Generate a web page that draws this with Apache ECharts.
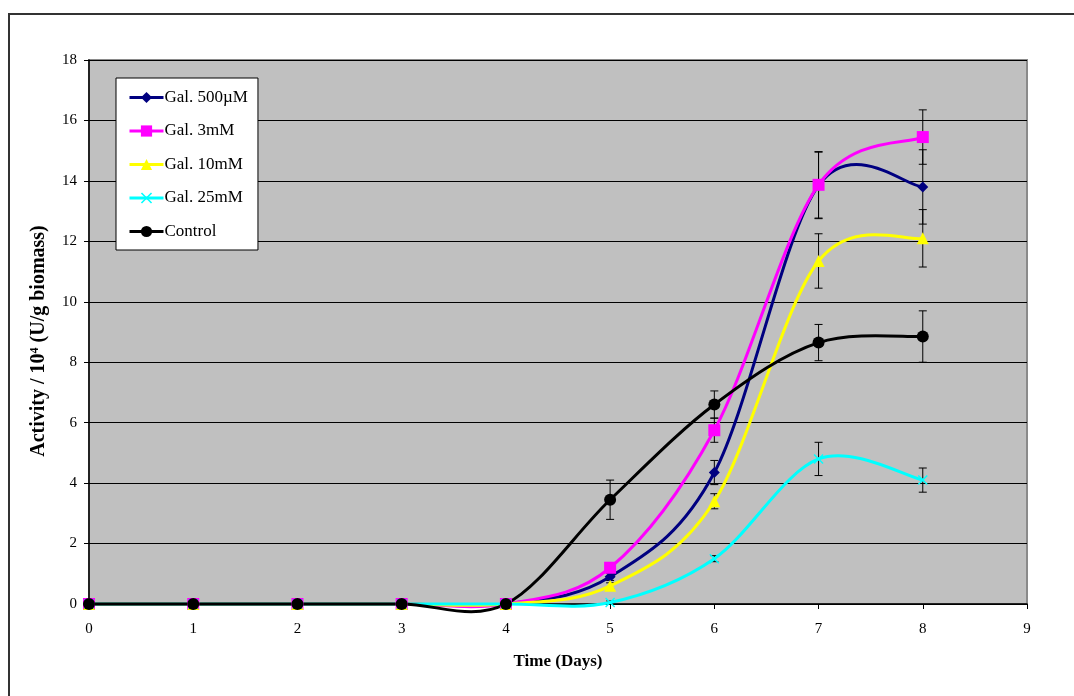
<!DOCTYPE html>
<html>
<head>
<meta charset="utf-8">
<script src="https://cdn.jsdelivr.net/npm/echarts@6/dist/echarts.min.js"></script>
<style>
html,body{margin:0;padding:0;background:#fff;}
#chart{width:1074px;height:696px;}
</style>
</head>
<body>
<div id="chart"></div>
<script>
// ---- data ----
const days = [0, 1, 2, 3, 4, 5, 6, 7, 8];
const seriesNames = ['Gal. 500µM', 'Gal. 3mM', 'Gal. 10mM', 'Gal. 25mM', 'Control'];
const gal500uM = [0, 0, 0, 0, 0, 0.9, 4.35, 13.85, 13.8];
const gal3mM   = [0, 0, 0, 0, 0, 1.2, 5.75, 13.87, 15.45];
const gal10mM  = [0, 0, 0, 0, 0, 0.6, 3.4, 11.35, 12.1];
const gal25mM  = [0, 0, 0, 0, 0, 0.05, 1.5, 4.8, 4.1];
const control  = [0, 0, 0, 0, 0, 3.45, 6.6, 8.65, 8.85];
const err500uM = [0, 0, 0, 0, 0, 0.12, 0.4, 1.1, 1.23];
const err3mM   = [0, 0, 0, 0, 0, 0.15, 0.4, 1.1, 0.9];
const err10mM  = [0, 0, 0, 0, 0, 0.1, 0.25, 0.9, 0.95];
const err25mM  = [0, 0, 0, 0, 0, 0.05, 0.1, 0.55, 0.4];
const errCtrl  = [0, 0, 0, 0, 0, 0.65, 0.45, 0.6, 0.85];
const xTicks = [0, 1, 2, 3, 4, 5, 6, 7, 8, 9];
const yTicks = [0, 2, 4, 6, 8, 10, 12, 14, 16, 18];

const values = [gal500uM, gal3mM, gal10mM, gal25mM, control];
const errors = [err500uM, err3mM, err10mM, err25mM, errCtrl];
const colors = ['#000080', '#ff00ff', '#ffff00', '#00ffff', '#000000'];
const symbols = [
  'diamond', 'rect', 'triangle',
  'path://M1,0 L5,4 L9,0 L10,1 L6,5 L10,9 L9,10 L5,6 L1,10 L0,9 L4,5 L0,1Z',
  'circle'
];
const symbolSizes = [11, 12, 12, 10, 12];
const serif = '"Liberation Serif", "Times New Roman", serif';

const series = [];
// error bars (drawn below lines)
values.forEach((vals, i) => {
  series.push({
    type: 'custom',
    name: seriesNames[i] + ' err',
    z: 1,
    silent: true,
    data: days.map((d, k) => [d, vals[k], errors[i][k]]).filter(r => r[2] > 0),
    renderItem: function (params, api) {
      const x = api.value(0), y = api.value(1), e = api.value(2);
      const top = api.coord([x, y + e]);
      const bot = api.coord([x, y - e]);
      const cap = 4;
      const st = { stroke: '#000', lineWidth: 1 };
      return {
        type: 'group',
        children: [
          { type: 'line', shape: { x1: top[0], y1: top[1], x2: bot[0], y2: bot[1] }, style: st },
          { type: 'line', shape: { x1: top[0] - cap, y1: top[1], x2: top[0] + cap, y2: top[1] }, style: st },
          { type: 'line', shape: { x1: bot[0] - cap, y1: bot[1], x2: bot[0] + cap, y2: bot[1] }, style: st }
        ]
      };
    }
  });
});
// smoothed curves (Catmull-Rom Bezier, spreadsheet style), through api.coord
values.forEach((vals, i) => {
  series.push({
    type: 'custom',
    name: seriesNames[i] + ' curve',
    z: 2 + i,
    silent: true,
    clip: false,
    data: days.map((d, k) => [d, vals[k]]),
    renderItem: function (params, api) {
      const k = params.dataIndex;
      const n = days.length;
      if (k >= n - 1) return null;
      const P = j => api.coord([days[Math.max(0, Math.min(n - 1, j))], vals[Math.max(0, Math.min(n - 1, j))]]);
      const p0 = P(k - 1), p1 = P(k), p2 = P(k + 1), p3 = P(k + 2);
      const c1 = [p1[0] + (p2[0] - p0[0]) / 6, p1[1] + (p2[1] - p0[1]) / 6];
      const c2 = [p2[0] - (p3[0] - p1[0]) / 6, p2[1] - (p3[1] - p1[1]) / 6];
      return {
        type: 'bezierCurve',
        shape: { x1: p1[0], y1: p1[1], x2: p2[0], y2: p2[1], cpx1: c1[0], cpy1: c1[1], cpx2: c2[0], cpy2: c2[1] },
        style: { stroke: colors[i], lineWidth: 3, fill: null, lineCap: 'round' }
      };
    }
  });
});
// markers (and legend entries)
values.forEach((vals, i) => {
  series.push({
    type: 'line',
    name: seriesNames[i],
    z: 8 + i,
    data: days.map((d, k) => [d, vals[k]]),
    symbol: symbols[i],
    symbolSize: symbolSizes[i],
    showAllSymbol: true,
    lineStyle: { color: colors[i], width: 0, opacity: 0 },
    itemStyle: { color: colors[i], borderColor: colors[i], borderWidth: 0 },
    emphasis: { disabled: true }
  });
});

const chart = echarts.init(document.getElementById('chart'), null, { renderer: 'canvas' });
chart.setOption({
  animation: false,
  backgroundColor: '#ffffff',
  graphic: [{
    type: 'rect',
    shape: { x: 9, y: 14, width: 1200, height: 800 },
    style: { fill: 'none', stroke: '#333', lineWidth: 2 },
    z: -1
  }],
  grid: {
    left: 89, right: 47, top: 60, bottom: 92,
    show: true, backgroundColor: '#c0c0c0', borderColor: '#8a8a8a', borderWidth: 2
  },
  legend: {
    data: seriesNames.map((nm, i) => ({
      name: nm,
      lineStyle: { color: colors[i], width: 3, opacity: 1 },
      itemStyle: { color: colors[i] }
    })),
    orient: 'vertical',
    left: 116, top: 78,
    padding: [11, 10, 10, 12],
    itemGap: 16.5,
    itemWidth: 34, itemHeight: 14,
    backgroundColor: '#ffffff',
    borderColor: '#000', borderWidth: 1,
    textStyle: { fontFamily: serif, fontSize: 17, color: '#000', padding: [0, 0, 0, -4] },
    selectedMode: false
  },
  xAxis: {
    type: 'value',
    min: 0, max: 9, interval: 1,
    name: 'Time (Days)',
    nameLocation: 'middle',
    nameGap: 49,
    nameTextStyle: { fontFamily: serif, fontSize: 17, fontWeight: 'bold', color: '#000' },
    axisLine: { show: true, lineStyle: { color: '#000', width: 1.5 } },
    axisTick: { show: true, length: 5, lineStyle: { color: '#000' } },
    axisLabel: { fontFamily: serif, fontSize: 15, color: '#000', margin: 18,
      formatter: v => xTicks.includes(v) ? String(v) : '' },
    splitLine: { show: false }
  },
  yAxis: {
    type: 'value',
    min: 0, max: 18, interval: 2,
    name: '{a|Activity / 10}{s|4}{a| (U/g biomass)}',
    nameLocation: 'middle',
    nameGap: 40,
    nameRotate: 90,
    nameTextStyle: {
      padding: [0, 18, 0, 0],
      rich: {
        a: { fontFamily: serif, fontSize: 20, fontWeight: 'bold', color: '#000' },
        s: { fontFamily: serif, fontSize: 12, fontWeight: 'bold', color: '#000', verticalAlign: 'top', padding: [0, 0, 8, 0] }
      }
    },
    axisLine: { show: true, lineStyle: { color: '#000', width: 1.5 } },
    axisTick: { show: true, length: 5, lineStyle: { color: '#000' } },
    axisLabel: { fontFamily: serif, fontSize: 15, color: '#000', margin: 12,
      formatter: v => yTicks.includes(v) ? String(v) : '' },
    splitLine: { show: true, lineStyle: { color: '#000', width: 1 } }
  },
  series: series
});
</script>
</body>
</html>
